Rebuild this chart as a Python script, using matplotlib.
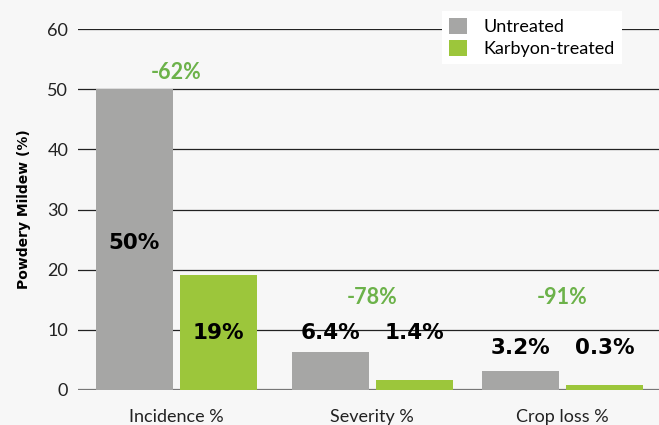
import matplotlib.pyplot as plt
import numpy as np

plt.rcParams['font.family'] = ['Lato', 'DejaVu Sans']

categories = ['Incidence %', 'Severity %', 'Crop loss %']
untreated = [50, 6.3, 3.2]
treated = [19.1, 1.6, 0.8]
untreated_labels = ['50%', '6.4%', '3.2%']
treated_labels = ['19%', '1.4%', '0.3%']
reductions = ['-62%', '-78%', '-91%']
yticks = [0, 10, 20, 30, 40, 50, 60]

grey = '#a6a6a5'
green = '#9cc63b'
green_text = '#6cb24a'
bg = '#f7f7f7'

fig = plt.figure(figsize=(6.59, 4.25), dpi=100, facecolor=bg)
ax = fig.add_axes([78 / 659, 35 / 425, 581 / 659, 361 / 425], facecolor=bg)

x = np.array([0, 1.015, 2])
w = 0.4
off = 0.218
ax.bar(x - off, untreated, w, color=grey, zorder=3, label='Untreated')
ax.bar(x + off, treated, w, color=green, zorder=3, label='Karbyon-treated')

for yv in yticks:
    ax.axhline(yv, color='#777777' if yv == 0 else '#222222',
               lw=1.6 if yv == 0 else 0.9, zorder=1)

# value labels, heavy weight
heavy = dict(fontsize=15.5, fontweight='bold', family='DejaVu Sans',
             ha='center', va='center', zorder=4)
lab_y = [(24.4, 9.4), (9.4, 9.4), (7.0, 7.0)]
for i in range(3):
    ax.text(x[i] - off, lab_y[i][0], untreated_labels[i], **heavy)
    ax.text(x[i] + off, lab_y[i][1], treated_labels[i], **heavy)

red_y = [52.8, 15.4, 15.4]
for i, r in enumerate(reductions):
    ax.text(x[i], red_y[i], r, ha='center', va='center', fontsize=15.5,
            color=green_text, fontweight='bold', zorder=4)

ax.set_xlim(-0.51, 2.5)
ax.set_ylim(0, 60)
ax.set_yticks(yticks)
ax.set_xticks(x)
ax.set_xticklabels(categories, fontsize=13, color='#222222')
ax.tick_params(axis='y', length=0, pad=7, labelsize=13, labelcolor='#222222')
ax.tick_params(axis='x', length=0, pad=14)
for s in ax.spines.values():
    s.set_visible(False)
ax.set_ylabel('Powdery Mildew (%)', fontsize=10, fontweight='bold',
              family='DejaVu Sans', labelpad=12)

leg = ax.legend(loc='upper left', bbox_to_anchor=((442 - 78) / 581, 1.0 + 18 / 361),
                fontsize=13, frameon=True, fancybox=False, framealpha=1,
                edgecolor='white', handlelength=1.0, handleheight=1.0,
                borderpad=0.4, labelspacing=0.25, handletextpad=0.9, borderaxespad=0)
leg.get_frame().set_linewidth(0)
leg.set_zorder(5)

fig.savefig('out.png', dpi=100, facecolor=bg)
